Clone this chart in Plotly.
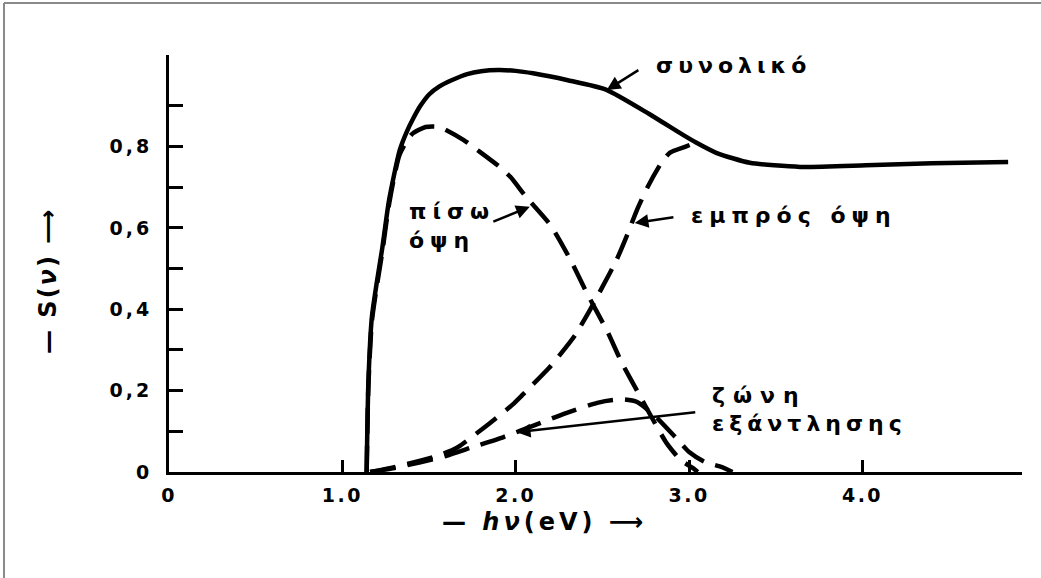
import plotly.graph_objects as go

# Photon energy hν (eV) and collection efficiency S(ν) of each component
x_total = [1.14, 1.15, 1.17, 1.20, 1.23, 1.27, 1.33, 1.37, 1.41, 1.45, 1.50, 1.56, 1.63,
           1.72, 1.80, 1.90, 2.00, 2.10, 2.30, 2.52, 2.77, 2.96, 3.04, 3.16, 3.35, 3.64,
           4.02, 4.40, 4.84]
y_total = [0.0, 0.22, 0.38, 0.47, 0.55, 0.67, 0.79, 0.835, 0.87, 0.90, 0.928, 0.948, 0.963,
           0.978, 0.985, 0.988, 0.986, 0.98, 0.963, 0.94, 0.88, 0.83, 0.81, 0.784, 0.76, 0.75,
           0.754, 0.759, 0.762]

x_back = [1.14, 1.15, 1.17, 1.20, 1.23, 1.27, 1.33, 1.40, 1.48, 1.56, 1.70, 1.78,
          1.91, 1.97, 2.06, 2.20, 2.31, 2.41, 2.53, 2.61, 2.72, 2.77, 2.87, 2.95, 3.02, 3.05]
y_back = [0.0, 0.21, 0.37, 0.46, 0.54, 0.66, 0.78, 0.83, 0.848, 0.848, 0.816, 0.791,
          0.749, 0.725, 0.676, 0.607, 0.526, 0.44, 0.344, 0.27, 0.184, 0.145, 0.071, 0.03, 0.01, 0.0]

x_front = [1.16, 1.30, 1.45, 1.55, 1.64, 1.68, 1.79, 1.85, 1.98, 2.04, 2.19, 2.23,
           2.34, 2.43, 2.50, 2.58, 2.64, 2.70, 2.76, 2.84, 2.89, 2.98, 3.04]
y_front = [0.0, 0.012, 0.028, 0.040, 0.055, 0.065, 0.10, 0.12, 0.165, 0.19, 0.255, 0.275,
           0.335, 0.40, 0.455, 0.52, 0.58, 0.645, 0.70, 0.76, 0.785, 0.80, 0.81]

x_depl = [1.16, 1.30, 1.45, 1.60, 1.75, 1.93, 2.11, 2.29, 2.47, 2.56, 2.63, 2.70,
          2.81, 2.92, 3.00, 3.09, 3.19, 3.25]
y_depl = [0.0, 0.010, 0.024, 0.040, 0.061, 0.086, 0.115, 0.145, 0.170, 0.177, 0.178, 0.172,
          0.135, 0.086, 0.049, 0.025, 0.012, 0.0]

x_ticks = [0, 1, 2, 3, 4]
x_tick_text = ["0", "1.0", "2.0", "3.0", "4.0"]
y_ticks = [0, 0.1, 0.2, 0.3, 0.4, 0.5, 0.6, 0.7, 0.8, 0.9]
y_tick_text = ["0", "", "0,2", "", "0,4", "", "0,6", "", "0,8", ""]

INK = "#000000"
FONT = "DejaVu Sans"

# Plot-area geometry in pixels
L, R, T, B = 169, 19, 55, 106
W, H = 1041 - L - R, 578 - T - B


def spaced(text, px):
    return f'<span style="letter-spacing:{px}px">{text}</span>'


def px_x(p):
    return (p - L) / W


def px_y(p):
    return (578 - B - p) / H


fig = go.Figure()

dash = "26px,12px"
for xs, ys, nm in [(x_back, y_back, "πίσω όψη"),
                   (x_front, y_front, "εμπρός όψη"),
                   (x_depl, y_depl, "ζώνη εξάντλησης")]:
    fig.add_trace(go.Scatter(x=xs, y=ys, mode="lines", name=nm,
                             line=dict(color=INK, width=4.5, dash=dash,
                                       shape="spline", smoothing=0.6)))
fig.add_trace(go.Scatter(x=x_total, y=y_total, mode="lines", name="συνολικό",
                         line=dict(color=INK, width=4.5, shape="spline", smoothing=0.6)))

# Curve labels: text, x, y, letter spacing
labels = [
    ("συνολικό", 2.80, 0.998, 5),
    ("πίσω", 1.37, 0.641, 6),
    ("όψη", 1.375, 0.568, 6),
    ("εμπρός όψη", 3.00, 0.631, 6),
    ("ζώνη", 3.12, 0.189, 8),
    ("εξάντλησης", 3.12, 0.120, 5),
]
for txt, lx, ly, sp in labels:
    fig.add_annotation(x=lx, y=ly, xref="x", yref="y", text=spaced(txt, sp),
                       showarrow=False, xanchor="left", yanchor="middle",
                       font=dict(family=FONT, size=22, color=INK, weight="bold"))

# Leader arrows from the labels to the curves: (tail, head)
arrows = [
    ((2.716, 0.990), (2.525, 0.939)),
    ((1.862, 0.614), (2.081, 0.652)),
    ((2.918, 0.627), (2.686, 0.612)),
    ((3.044, 0.147), (2.006, 0.098)),
]
for (tx, ty), (hx, hy) in arrows:
    fig.add_annotation(x=hx, y=hy, ax=tx, ay=ty, xref="x", yref="y", axref="x", ayref="y",
                       text="", showarrow=True, arrowhead=2, arrowsize=1.1,
                       arrowwidth=2.5, arrowcolor=INK)

# Axis titles
title_font = dict(family=FONT, size=24, color=INK, weight="bold")
fig.add_annotation(x=px_x(544), y=px_y(522), xref="paper", yref="paper",
                   text=spaced("— <i>hν</i>(eV) ⟶", 4), showarrow=False,
                   xanchor="center", yanchor="middle", font=title_font)
fig.add_annotation(x=px_x(48), y=px_y(280), xref="paper", yref="paper",
                   text=spaced("— S(<i>ν</i>) ⟶", 2), textangle=-90, showarrow=False,
                   xanchor="center", yanchor="middle", font=title_font)

# Thin grey frame along the top and left edges of the page
fig.add_shape(type="line", xref="paper", yref="paper",
              x0=px_x(4), x1=px_x(1041), y0=px_y(3), y1=px_y(3),
              line=dict(color="#8a8a8a", width=2))
fig.add_shape(type="line", xref="paper", yref="paper",
              x0=px_x(4), x1=px_x(4), y0=px_y(3), y1=px_y(578),
              line=dict(color="#8a8a8a", width=2))

tick_font = dict(family=FONT, size=19, color=INK, weight="bold")

fig.update_layout(
    width=1041, height=578,
    margin=dict(l=L, r=R, t=T, b=B, autoexpand=False),
    paper_bgcolor="white", plot_bgcolor="white",
    showlegend=False,
    xaxis=dict(range=[0, 4.92], showline=True, linewidth=3, linecolor=INK,
               showgrid=False, zeroline=False, ticks="inside", ticklen=12, tickwidth=2.5,
               tickcolor=INK, tickvals=x_ticks, ticktext=[spaced(t, 2.5) for t in x_tick_text],
               tickfont=tick_font, ticklabelstandoff=4),
    yaxis=dict(range=[0, 1.025], showline=True, linewidth=3, linecolor=INK,
               showgrid=False, zeroline=False, ticks="inside", ticklen=14, tickwidth=2.5,
               tickcolor=INK, tickvals=y_ticks, ticktext=[spaced(t, 3) for t in y_tick_text],
               tickfont=tick_font, ticklabelstandoff=10),
)

fig.write_html("out.html")
